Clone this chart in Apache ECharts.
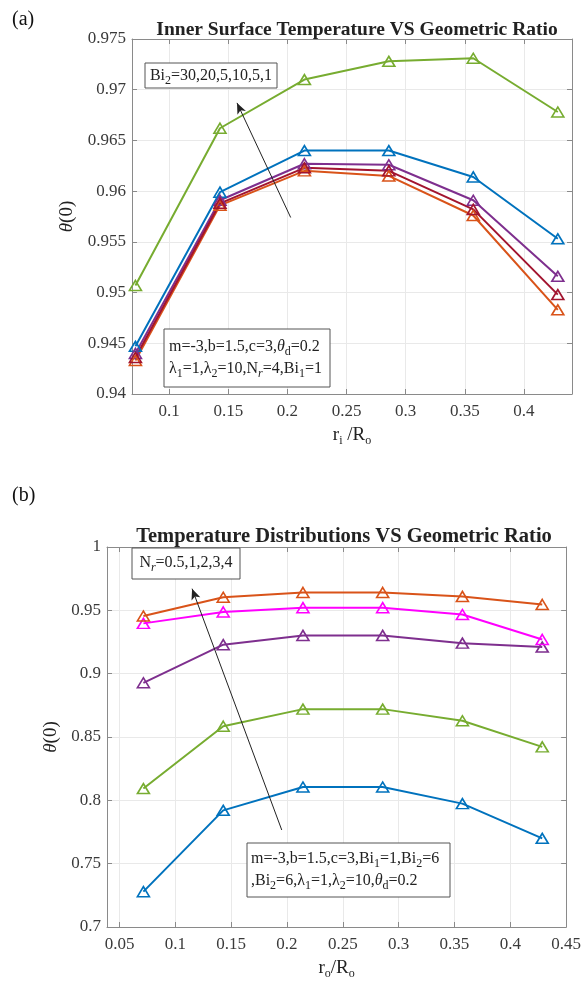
<!DOCTYPE html>
<html>
<head>
<meta charset="utf-8">
<script src="https://cdn.jsdelivr.net/npm/echarts@6/dist/echarts.min.js"></script>
<style>
  html, body { margin: 0; padding: 0; background: #fff; }
  #chart { width: 584px; height: 986px; }
</style>
</head>
<body>
<div id="chart"></div>
<script>
// geometric ratio r/R (x positions of the points)
const xRatio = [0.0714, 0.1429, 0.2143, 0.2857, 0.3571, 0.4286]

// (a) inner surface temperature, one line per Bi2
const aBlue = [0.9447, 0.9599, 0.9640, 0.9640, 0.9614, 0.9553]
const aPurple = [0.9440, 0.9591, 0.9627, 0.9626, 0.9591, 0.9516]
const aDarkRed = [0.9436, 0.9588, 0.9623, 0.9620, 0.9582, 0.9498]
const aOrange = [0.9433, 0.9586, 0.9620, 0.9615, 0.9576, 0.9483]
const aGreen = [0.9507, 0.9662, 0.9710, 0.9728, 0.9731, 0.9678]

// (b) temperature distributions, one line per Nr
const bOrange = [0.9455, 0.9603, 0.9641, 0.9641, 0.9610, 0.9546]
const bMagenta = [0.9397, 0.9487, 0.9521, 0.9521, 0.9467, 0.9270]
const bPurple = [0.8928, 0.9229, 0.9302, 0.9302, 0.9241, 0.9210]
const bGreen = [0.8093, 0.8585, 0.8720, 0.8720, 0.8628, 0.8422]
const bBlue = [0.7279, 0.7921, 0.8105, 0.8105, 0.7974, 0.7700]

// tick labels
const aTicksX = [0.1, 0.15, 0.2, 0.25, 0.3, 0.35, 0.4]
const bTicksX = [0.05, 0.1, 0.15, 0.2, 0.25, 0.3, 0.35, 0.4, 0.45]

// arrows in the plots (data coords: tail -> head)
const aArrow = [[0.2027, 0.9574], [0.1573, 0.9687]]
const bArrow = [[0.1953, 0.7766], [0.1150, 0.9671]]

const serif = 'Liberation Serif, "DejaVu Serif", serif'
const axisGray = '#8a8a8a'
const gridGray = '#e9e9e9'
const labelColor = '#3a3a3a'

const rich = {
  s: { fontSize: 12, lineHeight: 9, verticalAlign: 'bottom', fontFamily: serif, color: '#222' },
  si: { fontSize: 12, lineHeight: 9, verticalAlign: 'bottom', fontStyle: 'italic', fontFamily: serif, color: '#222' },
  i: { fontStyle: 'italic', fontFamily: serif, fontSize: 16, lineHeight: 22, color: '#222' },
  iy: { fontStyle: 'italic', fontFamily: serif, fontSize: 19, color: '#222' }
}

const makeLine = (data, color, gi, arrow) => {
  const s = {
    type: 'line',
    xAxisIndex: gi * 2,
    yAxisIndex: gi * 2,
    data: data.map((v, i) => [xRatio[i], v]),
    symbol: 'triangle',
    symbolSize: [12, 10],
    showAllSymbol: true,
    lineStyle: { color: color, width: 2 },
    itemStyle: { color: 'rgba(255,255,255,0)', borderColor: color, borderWidth: 1.6 },
    emphasis: { disabled: true }
  }
  if (arrow) {
    s.markLine = {
      silent: true,
      symbol: ['none', 'arrow'],
      symbolSize: [7, 11],
      lineStyle: { color: '#222', width: 1, type: 'solid' },
      label: { show: false },
      data: [[{ coord: arrow[0] }, { coord: arrow[1] }]]
    }
  }
  return s
}

const mainX = (gi, min, max, ticks, name) => ({
  type: 'value', gridIndex: gi, min: min, max: max, position: 'bottom',
  name: name, nameLocation: 'middle', nameGap: 29,
  nameTextStyle: { fontFamily: serif, fontSize: 19, lineHeight: 24, color: '#222', rich: rich },
  axisLine: { show: true, lineStyle: { color: axisGray } },
  axisTick: { show: true, inside: true, length: 5, customValues: ticks, lineStyle: { color: axisGray } },
  axisLabel: { customValues: ticks, fontFamily: serif, fontSize: 17, color: labelColor, margin: 9 },
  splitLine: { show: true, lineStyle: { color: gridGray } }
})
const mirrorX = (gi, min, max, ticks) => ({
  type: 'value', gridIndex: gi, min: min, max: max, position: 'top',
  axisLine: { show: true, lineStyle: { color: axisGray } },
  axisTick: { show: true, inside: true, length: 5, customValues: ticks, lineStyle: { color: axisGray } },
  axisLabel: { show: false }, splitLine: { show: false }
})
const mainY = (gi, min, max, step, gap) => ({
  type: 'value', gridIndex: gi, min: min, max: max, interval: step, position: 'left',
  name: '{iy|θ}(0)', nameLocation: 'middle', nameGap: gap, nameRotate: 90,
  nameTextStyle: { fontFamily: serif, fontSize: 19, color: '#222', rich: rich },
  axisLine: { show: true, lineStyle: { color: axisGray } },
  axisTick: { show: true, inside: true, length: 5, lineStyle: { color: axisGray } },
  axisLabel: { fontFamily: serif, fontSize: 17, color: labelColor, margin: 6 },
  splitLine: { show: true, lineStyle: { color: gridGray } }
})
const mirrorY = (gi, min, max, step) => ({
  type: 'value', gridIndex: gi, min: min, max: max, interval: step, position: 'right',
  axisLine: { show: true, lineStyle: { color: axisGray } },
  axisTick: { show: true, inside: true, length: 5, lineStyle: { color: axisGray } },
  axisLabel: { show: false }, splitLine: { show: false }
})

const boxStyle = { fill: '#fff', stroke: '#555', lineWidth: 1 }
const boxText = (x, y, text, align) => ({
  type: 'text', x: x, y: y, z: 101,
  style: {
    text: text, fill: '#222', align: align, verticalAlign: 'middle',
    font: '16px ' + serif, lineHeight: 22, rich: rich
  }
})

const chart = echarts.init(document.getElementById('chart'))

chart.setOption({
  animation: false,
  backgroundColor: '#fff',
  textStyle: { fontFamily: serif },
  title: [
    {
      text: 'Inner Surface Temperature VS Geometric Ratio', left: 352, top: 15, textAlign: 'center',
      textStyle: { fontFamily: serif, fontWeight: 'bold', fontSize: 19.5, color: '#222' }
    },
    {
      text: 'Temperature Distributions VS Geometric Ratio', left: 339, top: 521, textAlign: 'center',
      textStyle: { fontFamily: serif, fontWeight: 'bold', fontSize: 20.5, color: '#222' }
    }
  ],
  grid: [
    { left: 132, top: 39, width: 440, height: 355 },
    { left: 107, top: 547, width: 463, height: 380 }
  ],
  xAxis: [
    mainX(0, 0.0685, 0.4406, aTicksX, 'r{s|i} /R{s|o}'),
    mirrorX(0, 0.0685, 0.4406, aTicksX),
    mainX(1, 0.0388, 0.45, bTicksX, 'r{s|o}/R{s|o}'),
    mirrorX(1, 0.0388, 0.45, bTicksX)
  ],
  yAxis: [
    mainY(0, 0.94, 0.975, 0.005, 53),
    mirrorY(0, 0.94, 0.975, 0.005),
    mainY(1, 0.7, 1, 0.05, 42),
    mirrorY(1, 0.7, 1, 0.05)
  ],
  series: [
    makeLine(aBlue, '#0072BD', 0, aArrow),
    makeLine(aPurple, '#7E2F8E', 0),
    makeLine(aOrange, '#D95319', 0),
    makeLine(aDarkRed, '#A2142F', 0),
    makeLine(aGreen, '#77AC30', 0),
    makeLine(bBlue, '#0072BD', 1, bArrow),
    makeLine(bGreen, '#77AC30', 1),
    makeLine(bPurple, '#7E2F8E', 1),
    makeLine(bMagenta, '#FF00FF', 1),
    makeLine(bOrange, '#D95319', 1)
  ],
  graphic: [
    { type: 'text', x: 12, y: 10, style: { text: '(a)', font: '20px ' + serif, fill: '#111' } },
    { type: 'text', x: 12, y: 486, style: { text: '(b)', font: '20px ' + serif, fill: '#111' } },

    { type: 'rect', z: 100, shape: { x: 145, y: 63, width: 132, height: 25 }, style: boxStyle },
    boxText(211, 76, 'Bi{s|2}=30,20,5,10,5,1', 'center'),

    { type: 'rect', z: 100, shape: { x: 164, y: 329, width: 166, height: 58 }, style: boxStyle },
    boxText(169, 358, 'm=-3,b=1.5,c=3,{i|θ}{s|d}=0.2\nλ{s|1}=1,λ{s|2}=10,N{si|r}=4,Bi{s|1}=1', 'left'),

    { type: 'rect', z: 100, shape: { x: 132, y: 548, width: 108, height: 31 }, style: boxStyle },
    boxText(186, 563, 'N{si|r}=0.5,1,2,3,4', 'center'),

    { type: 'rect', z: 100, shape: { x: 247, y: 843, width: 203, height: 54 }, style: boxStyle },
    boxText(251, 870, 'm=-3,b=1.5,c=3,Bi{s|1}=1,Bi{s|2}=6\n,Bi{s|2}=6,λ{s|1}=1,λ{s|2}=10,{i|θ}{s|d}=0.2', 'left')
  ]
})
</script>
</body>
</html>
